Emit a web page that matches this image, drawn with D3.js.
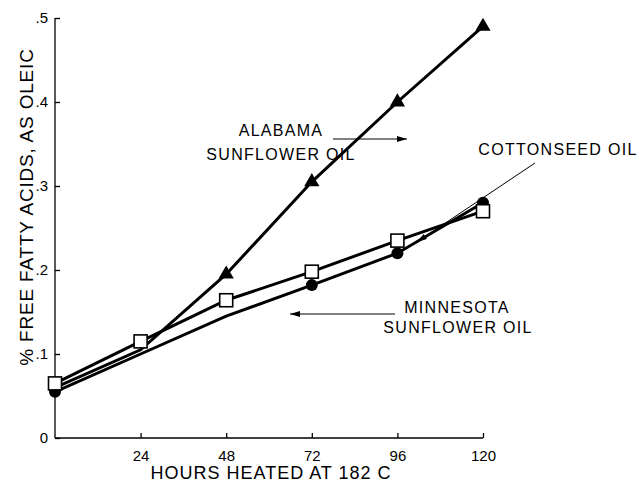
<!DOCTYPE html>
<html><head><meta charset="utf-8">
<script src="https://cdn.jsdelivr.net/npm/d3@7"></script>
<style>body{margin:0;background:#fff}svg{display:block}text{font-family:"Liberation Sans",Arial,sans-serif;fill:#000}</style>
</head><body><svg id="c" width="643" height="487"></svg>
<script>
const hours = [0, 24, 48, 72, 96, 120];
const alabama = [0.06, 0.105, 0.195, 0.305, 0.40, 0.49];
const cottonseed = [0.065, 0.115, 0.164, 0.198, 0.235, 0.27];
const minnesota = [0.055, 0.10, 0.145, 0.182, 0.22, 0.28];
const minnesotaMarkers = [0, 72, 96, 120];
const alabamaMarkers = [48, 72, 96, 120];
const xTicks = [24, 48, 72, 96, 120];
const yTicks = [0, 0.1, 0.2, 0.3, 0.4, 0.5];
const yTickLabels = ["0", ".1", ".2", ".3", ".4", ".5"];

const svg = d3.select("#c");
const x = d3.scaleLinear().domain([0, 120]).range([55, 483]);
const y = d3.scaleLinear().domain([0, 0.5]).range([438, 18]);

// axes
const xAxis = d3.axisBottom(x).tickValues(xTicks).tickSize(-5).tickPadding(12).tickFormat(d3.format("d"));
const gx = svg.append("g").attr("transform", `translate(0,${y(0)})`).call(xAxis);
gx.select(".domain").attr("d", `M${x(0)},0H${x(120)}`).attr("stroke", "#000").attr("stroke-width", 1.3);
gx.selectAll(".tick line").attr("stroke-width", 1.3);
gx.selectAll("text").style("font-size", "15px").attr("font-family", "Liberation Sans, Arial, sans-serif");

const yAxis = d3.axisLeft(y).tickValues(yTicks).tickSize(-5).tickPadding(7).tickFormat((d, i) => yTickLabels[i]);
const gy = svg.append("g").attr("transform", `translate(${x(0)},0)`).call(yAxis);
gy.select(".domain").attr("d", `M0,${y(0)}V${y(0.5)}`).attr("stroke", "#000").attr("stroke-width", 1.3);
gy.selectAll(".tick line").attr("stroke-width", 1.3);
gy.selectAll("text").style("font-size", "15px").attr("font-family", "Liberation Sans, Arial, sans-serif");

// titles
svg.append("text").attr("x", 271).attr("y", 479).attr("text-anchor", "middle")
  .style("font-size", "18px").style("letter-spacing", "1px").text("HOURS HEATED AT 182 C");
svg.append("text").attr("transform", "translate(33,207) rotate(-90)").attr("text-anchor", "middle")
  .style("font-size", "19px").style("letter-spacing", "0.8px").text("% FREE FATTY ACIDS, AS OLEIC");

// lines
const line = d3.line().x(d => x(d[0])).y(d => y(d[1]));
[minnesota, cottonseed, alabama].forEach(s => {
  svg.append("path").datum(hours.map((h, i) => [h, s[i]]))
    .attr("d", line).attr("fill", "none").attr("stroke", "#000").attr("stroke-width", 3);
});

// markers
const pts = (s, keep) => hours.map((h, i) => [h, s[i]]).filter(d => keep.includes(d[0]));
svg.selectAll(".circ").data(pts(minnesota, minnesotaMarkers)).join("circle")
  .attr("cx", d => x(d[0])).attr("cy", d => y(d[1])).attr("r", 6).attr("fill", "#000");
const tri = d3.symbol().type(d3.symbolTriangle).size(100);
svg.selectAll(".tri").data(pts(alabama, alabamaMarkers)).join("path")
  .attr("transform", d => `translate(${x(d[0])},${y(d[1])})`).attr("d", tri).attr("fill", "#000");
svg.selectAll(".sq").data(pts(cottonseed, hours)).join("rect")
  .attr("x", d => x(d[0]) - 6.5).attr("y", d => y(d[1]) - 6.5).attr("width", 13).attr("height", 13)
  .attr("fill", "#fff").attr("stroke", "#000").attr("stroke-width", 1.6);

// annotations
const ann = svg.append("g").style("font-size", "16px").style("letter-spacing", "1.3px");
ann.append("text").attr("x", 281).attr("y", 136).attr("text-anchor", "middle").text("ALABAMA");
ann.append("text").attr("x", 281).attr("y", 160).attr("text-anchor", "middle").text("SUNFLOWER OIL");
ann.append("text").attr("x", 558).attr("y", 155).attr("text-anchor", "middle").text("COTTONSEED OIL");
ann.append("text").attr("x", 457).attr("y", 313).attr("text-anchor", "middle").text("MINNESOTA");
ann.append("text").attr("x", 458).attr("y", 333).attr("text-anchor", "middle").text("SUNFLOWER OIL");

const defs = svg.append("defs");
defs.append("marker").attr("id", "ah").attr("viewBox", "0 0 10 6").attr("refX", 10).attr("refY", 3)
  .attr("markerWidth", 15).attr("markerHeight", 6).attr("markerUnits", "userSpaceOnUse").attr("orient", "auto")
  .append("path").attr("d", "M0,0L10,3L0,6Z").attr("fill", "#000");
const arrows = [[333, 139, 407, 139], [535, 163, 417, 242], [395, 314, 290, 314]];
arrows.forEach(a => svg.append("line").attr("x1", a[0]).attr("y1", a[1]).attr("x2", a[2]).attr("y2", a[3])
  .attr("stroke", "#000").attr("stroke-width", 1).attr("marker-end", "url(#ah)"));
</script></body></html>
